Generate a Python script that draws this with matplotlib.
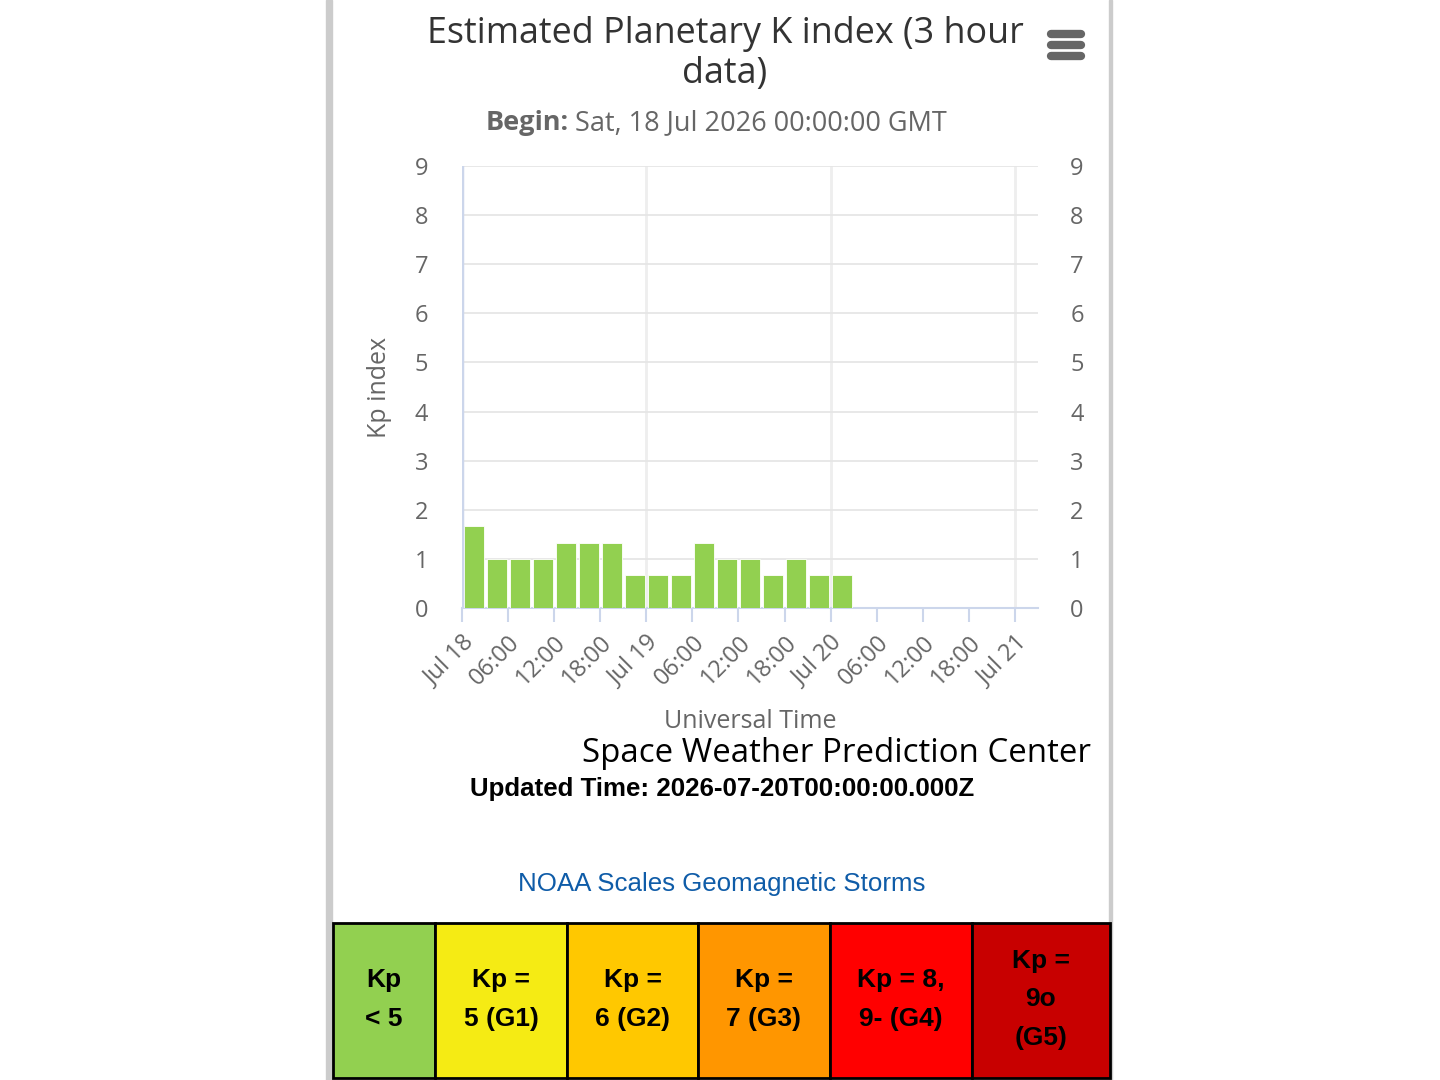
import matplotlib
matplotlib.use("Agg")
import matplotlib.pyplot as plt
from matplotlib.patches import Rectangle

# data: 3-hour Kp values starting Sat 18 Jul 2026 00:00 UTC
start_hours = [0, 3, 6, 9, 12, 15, 18, 21, 24, 27, 30, 33, 36, 39, 42, 45, 48]
kp_values = [1.67, 1.0, 1.0, 1.0, 1.33, 1.33, 1.33, 0.67, 0.67, 0.67,
             1.33, 1.0, 1.0, 0.67, 1.0, 0.67, 0.67]

tick_hours = [0, 6, 12, 18, 24, 30, 36, 42, 48, 54, 60, 66, 72]
tick_labels = ["Jul 18", "06:00", "12:00", "18:00", "Jul 19", "06:00", "12:00",
               "18:00", "Jul 20", "06:00", "12:00", "18:00", "Jul 21"]
day_hours = [24, 48, 72]

scale_labels = ["Kp\n< 5", "Kp =\n5 (G1)", "Kp =\n6 (G2)", "Kp =\n7 (G3)",
                "Kp = 8,\n9- (G4)", "Kp =\n9o\n(G5)"]
scale_colors = ["#92d050", "#f5eb14", "#ffc800", "#ff9600", "#ff0000", "#c80000"]
scale_edges = [333, 435, 567, 698, 830, 972, 1110]

W, H = 1440, 1080
fig = plt.figure(figsize=(14.4, 10.8), dpi=100)
fig.patch.set_facecolor("white")

gray = "#666666"
axis_blue = "#ccd6eb"
grid_gray = "#e6e6e6"
title_font = ["Open Sans", "DejaVu Sans"]
arial = ["Liberation Sans", "DejaVu Sans"]


def px(x, y):
    return x / W, 1 - y / H


# main chart axes, placed in pixel units
left, right, top, bottom = 462, 1038, 166, 608
ax = fig.add_axes([left / W, 1 - bottom / H, (right - left) / W, (bottom - top) / H])
ax.set_xlim(0, 75)
ax.set_ylim(0, 9)

ax.bar([h + 1.5 for h in start_hours], kp_values, width=2.6, color="#92d050",
       edgecolor="white", linewidth=0.6, zorder=3)

ax.set_yticks(range(10))
ax.yaxis.grid(True, color=grid_gray, linewidth=1.3, zorder=0)
for d in day_hours:
    ax.axvline(d, color="#eeeeee", linewidth=2, zorder=0)
ax.axvline(0, color=axis_blue, linewidth=2.5, zorder=4)

for s in ["top", "right", "left"]:
    ax.spines[s].set_visible(False)
ax.spines["bottom"].set_color(axis_blue)
ax.spines["bottom"].set_linewidth(1.5)
ax.spines["bottom"].set_zorder(2)

ax.set_xticks(tick_hours)
ax.set_xticklabels(tick_labels, rotation=45, ha="right", rotation_mode="anchor",
                   color=gray, fontsize=17, family=title_font)
ax.tick_params(axis="x", length=10, width=1.5, color=axis_blue, pad=6)
ax.tick_params(axis="y", length=0, pad=29, labelsize=17, labelcolor=gray)
for t in ax.get_yticklabels():
    t.set_family(title_font)
    t.set_ha("center")

ax2 = ax.twinx()
ax2.set_ylim(0, 9)
ax2.set_yticks(range(10))
for s in ax2.spines.values():
    s.set_visible(False)
ax2.tick_params(axis="y", length=0, pad=28, labelsize=17, labelcolor=gray)
for t in ax2.get_yticklabels():
    t.set_family(title_font)
    t.set_ha("center")

ax.set_ylabel("Kp index", color=gray, fontsize=18, family=title_font)
ax.yaxis.set_label_coords((392 - left) / (right - left), 0.5)

# titles and captions
fig.text(*px(725, 34), "Estimated Planetary K index (3 hour", ha="center", va="center",
         fontsize=25.8, color="#333333", family=title_font)
fig.text(*px(725, 74), "data)", ha="center", va="center",
         fontsize=25.8, color="#333333", family=title_font)
fig.text(*px(569, 123), "Begin:", ha="right", va="center", fontsize=19.5,
         color=gray, weight="bold", family=title_font)
fig.text(*px(575, 123), "Sat, 18 Jul 2026 00:00:00 GMT", ha="left", va="center",
         fontsize=19.5, color=gray, family=title_font)
fig.text(*px(750, 722), "Universal Time", ha="center", va="center", fontsize=18,
         color=gray, family=title_font)
fig.text(*px(836, 753), "Space Weather Prediction Center", ha="center", va="center",
         fontsize=23.8, color="black", family=title_font)
fig.text(*px(722, 789), "Updated Time: 2026-07-20T00:00:00.000Z", ha="center",
         va="center", fontsize=18.6, color="black", weight="bold", family=arial)
fig.text(*px(722, 884), "NOAA Scales Geomagnetic Storms", ha="center", va="center",
         fontsize=18.6, color="#0f5ca8", family=arial)

# overlay axes in pixel coords for table, menu icon and page borders
ov = fig.add_axes([0, 0, 1, 1], zorder=5)
ov.set_xlim(0, W)
ov.set_ylim(H, 0)
ov.axis("off")
ov.patch.set_alpha(0)

for yy in [34, 45, 56]:
    ov.plot([1051, 1081], [yy, yy], color=gray, linewidth=6, solid_capstyle="round")

ov.add_patch(Rectangle((326, 0), 6, H, color="#cccccc"))
ov.add_patch(Rectangle((1109, 0), 3, H, color="#cccccc"))

table_top, table_bottom = 923, 1078
for i, (lab, col) in enumerate(zip(scale_labels, scale_colors)):
    x0, x1 = scale_edges[i], scale_edges[i + 1]
    ov.add_patch(Rectangle((x0, table_top), x1 - x0, table_bottom - table_top,
                           facecolor=col, edgecolor="black", linewidth=2))
    ov.text((x0 + x1) / 2, (table_top + table_bottom) / 2 - 1, lab, ha="center",
            va="center", fontsize=19, weight="bold", color="black", family=arial,
            linespacing=1.75)

fig.savefig("out.png", dpi=100)
